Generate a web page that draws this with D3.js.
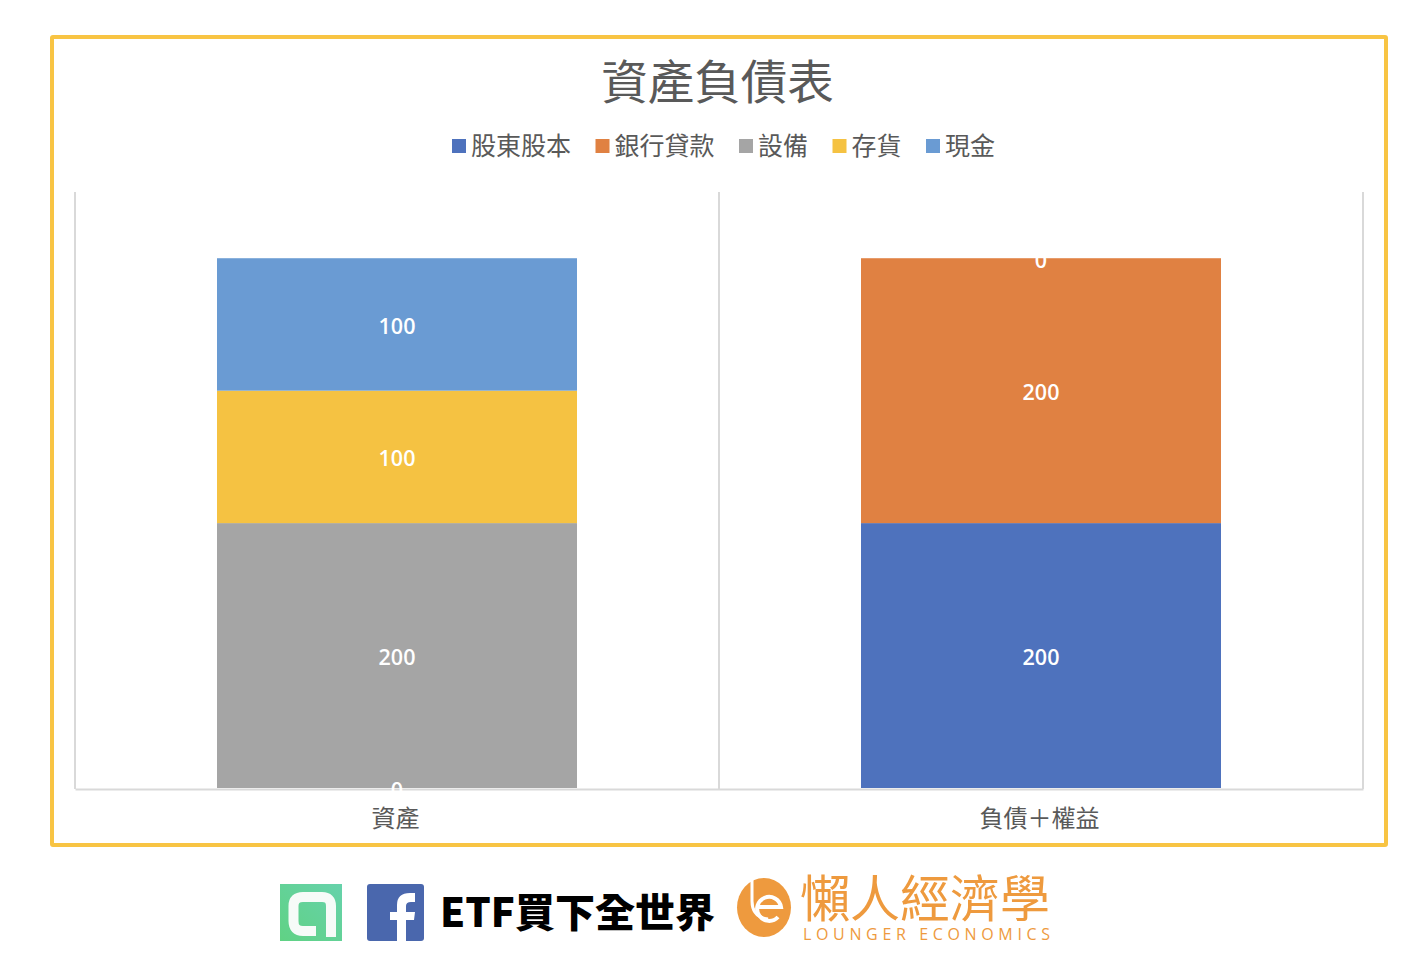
<!DOCTYPE html>
<html>
<head>
<meta charset="utf-8">
<script src="https://d3js.org/d3.v7.min.js"></script>
<style>
  html, body { margin: 0; padding: 0; background: #fff; }
  svg { display: block; }
  text { font-family: "Noto Sans CJK TC", "Noto Sans", sans-serif; }
</style>
</head>
<body>
<svg id="chart" width="1423" height="978"></svg>
<script>
const categories = ['資產', '負債＋權益'];
const seriesNames = ['股東股本', '銀行貸款', '設備', '存貨', '現金'];
const seriesColors = ['#4e72bd', '#e08142', '#a5a5a5', '#f5c242', '#6a9bd3'];
// one array per series, same order as categories
const equity = [0, 200];
const loans = [0, 200];
const equipment = [200, 0];
const inventory = [100, 0];
const cash = [100, 0];
const seriesValues = [equity, loans, equipment, inventory, cash];

const svg = d3.select('#chart');

// Outer frame
svg.append('rect')
  .attr('x', 52).attr('y', 37)
  .attr('width', 1334).attr('height', 808)
  .attr('rx', 1)
  .attr('fill', '#fff')
  .attr('stroke', '#f8c443')
  .attr('stroke-width', 4);

// Title
svg.append('text')
  .attr('x', 717.5).attr('y', 78)
  .attr('text-anchor', 'middle')
  .attr('dominant-baseline', 'central')
  .attr('fill', '#595959')
  .style('font-size', '46.5px')
  .text('資產負債表');

// Legend
let legendX = 452;
seriesNames.forEach((name, i) => {
  const item = svg.append('g').attr('transform', `translate(${legendX},0)`);
  item.append('rect')
    .attr('y', 139).attr('width', 14).attr('height', 14)
    .attr('fill', seriesColors[i]);
  item.append('text')
    .attr('x', 19).attr('y', 144)
    .attr('dominant-baseline', 'central')
    .attr('fill', '#595959')
    .style('font-size', '25px')
    .text(name);
  legendX += 19 + name.length * 25 + 24.5;
});

// Scales
const x = d3.scaleBand()
  .domain(categories)
  .range([75, 1363])
  .paddingInner(0.441)
  .paddingOuter(0.2205);

const y = d3.scaleLinear()
  .domain([0, 450])
  .range([788, 192]);

// Category separators
const step = x.step();
const separators = [75, 75 + step, 75 + 2 * step];
svg.append('g').selectAll('line')
  .data(separators)
  .enter()
  .append('line')
  .attr('x1', d => d).attr('x2', d => d)
  .attr('y1', y(450)).attr('y2', y(0) + 1)
  .attr('stroke', '#d9d9d9')
  .attr('stroke-width', 2);

// Stacked bars
const rows = categories.map((c, i) => {
  const row = { category: c };
  seriesNames.forEach((s, j) => { row[s] = seriesValues[j][i]; });
  return row;
});
const stacked = d3.stack().keys(seriesNames)(rows);

const layers = svg.append('g').selectAll('g')
  .data(stacked)
  .enter()
  .append('g')
  .attr('fill', (d, i) => seriesColors[i]);

layers.selectAll('rect')
  .data(d => d)
  .enter()
  .append('rect')
  .attr('x', d => x(d.data.category))
  .attr('width', x.bandwidth())
  .attr('y', d => y(d[1]))
  .attr('height', d => y(d[0]) - y(d[1]));

// X axis, sits just under the bars
const xAxis = svg.append('g')
  .attr('transform', `translate(0,${y(0) + 1})`)
  .call(d3.axisBottom(x).tickSize(0).tickPadding(21));
xAxis.select('.domain').attr('stroke', '#d9d9d9').attr('stroke-width', 2);
xAxis.selectAll('text')
  .attr('fill', '#595959')
  .attr('dx', -1.5)
  .style('font-size', '24px')
  .style('font-family', '"Liberation Sans", "Noto Sans CJK TC", sans-serif');

// Data labels, only the first zero at each stack position is drawn
const labels = [];
stacked.forEach(layer => {
  layer.forEach(d => {
    const value = d[1] - d[0];
    if (value === 0 && labels.some(l => l.cat === d.data.category && l.value === 0)) return;
    labels.push({ cat: d.data.category, value, mid: (d[0] + d[1]) / 2 });
  });
});
svg.append('g').selectAll('text')
  .data(labels)
  .enter()
  .append('text')
  .attr('x', d => x(d.cat) + x.bandwidth() / 2)
  .attr('y', d => y(d.mid) + 1)
  .attr('text-anchor', 'middle')
  .attr('dominant-baseline', 'central')
  .attr('fill', '#fff')
  .style('font-family', '"Open Sans", sans-serif')
  .style('font-size', '21.5px')
  .style('font-weight', 600)
  .text(d => d.value);

// Footer: green app icon
const defs = svg.append('defs');
const grad = defs.append('linearGradient')
  .attr('id', 'greenIcon')
  .attr('x1', '1').attr('y1', '0').attr('x2', '0').attr('y2', '1');
grad.append('stop').attr('offset', '0').attr('stop-color', '#66d2ab');
grad.append('stop').attr('offset', '1').attr('stop-color', '#60d284');

svg.append('rect')
  .attr('x', 280).attr('y', 884)
  .attr('width', 62).attr('height', 57)
  .attr('fill', 'url(#greenIcon)');
svg.append('path')
  .attr('d', 'M331 937V906Q331 897 322 897H303Q293.5 897 293.5 906V921Q293.5 931 303 931H316')
  .attr('fill', 'none')
  .attr('stroke', '#f6fbf8')
  .attr('stroke-width', 10);

// Footer: facebook icon
svg.append('rect')
  .attr('x', 367).attr('y', 884)
  .attr('width', 57).attr('height', 57)
  .attr('rx', 3)
  .attr('fill', '#4a67ad');
svg.append('path')
  .attr('d', 'M397 941V920H390V912H397V905Q397 893 410 893H415V902H411Q406 902 406 906V912H415L414 920H406V941Z')
  .attr('fill', '#fff');

// Footer: page name
svg.append('text')
  .attr('x', 440).attr('y', 910)
  .attr('dominant-baseline', 'central')
  .attr('fill', '#000')
  .style('font-size', '40px')
  .style('font-weight', 900)
  .text('ETF買下全世界');

// Footer: Lounger Economics logo
const orange = '#ee9a3e';
svg.append('ellipse')
  .attr('cx', 764).attr('cy', 907.5)
  .attr('rx', 27).attr('ry', 29.5)
  .attr('fill', orange);
svg.append('path')
  .attr('d', 'M752 879V901Q752 917 768 919')
  .attr('fill', 'none').attr('stroke', '#fff').attr('stroke-width', 3);
svg.append('path')
  .attr('d', 'M759 907H781A12 12 0 1 0 778 917')
  .attr('fill', 'none').attr('stroke', '#fff').attr('stroke-width', 4);

svg.append('text')
  .attr('x', 800).attr('y', 895)
  .attr('dominant-baseline', 'central')
  .attr('fill', orange)
  .style('font-size', '50px')
  .style('font-weight', 400)
  .text('懶人經濟學');
svg.append('text')
  .attr('x', 803).attr('y', 934)
  .attr('dominant-baseline', 'central')
  .attr('fill', orange)
  .attr('textLength', 247)
  .style('font-family', '"Open Sans", sans-serif')
  .style('font-size', '16px')
  .text('LOUNGER ECONOMICS');
</script>
</body>
</html>
